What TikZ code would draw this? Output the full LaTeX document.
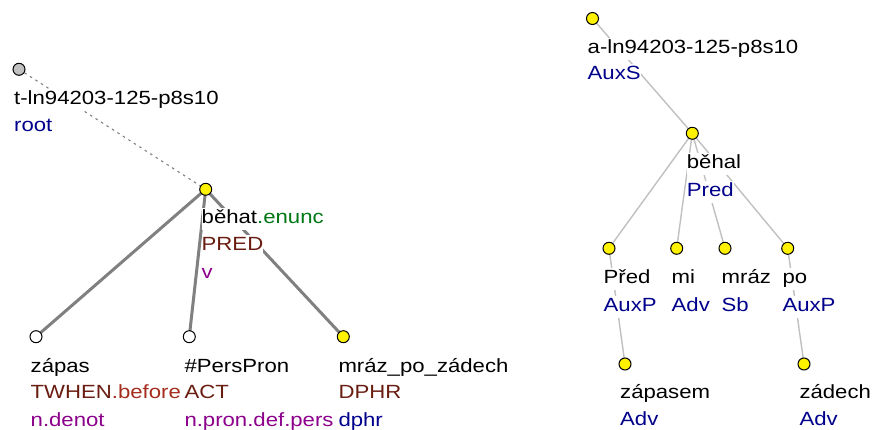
\documentclass[tikz,border=0pt]{standalone}
\usepackage{fontspec}
\setmainfont{Liberation Sans}[FakeStretch=1.16]
\definecolor{afun}{RGB}{0,0,140}
\definecolor{functor}{RGB}{105,28,16}
\definecolor{subfunc}{RGB}{165,45,30}
\definecolor{sempos}{RGB}{140,0,140}
\definecolor{tfa}{RGB}{0,120,20}
\definecolor{tedge}{RGB}{128,128,128}
\definecolor{aedge}{RGB}{192,192,192}
\definecolor{rootfill}{RGB}{192,192,192}
\tikzset{
  tnode/.style={circle,draw=black,line width=1pt,minimum size=12pt,inner sep=0pt},
  yel/.style={tnode,fill=yellow},
  wht/.style={tnode,fill=white},
  gry/.style={tnode,fill=rootfill},
  lbl/.style={anchor=base west,fill=white,inner xsep=0pt,inner ysep=1.5pt,
              text height=14pt,text depth=5pt,font=\fontsize{19.1}{22}\selectfont},
  tedgeline/.style={draw=tedge,line width=3pt},
  rootedge/.style={draw=tedge,line width=1.1pt,dash pattern=on 2.5pt off 4pt},
  aedgeline/.style={draw=aedge,line width=1.4pt},
}
\begin{document}
\begin{tikzpicture}[x=1pt,y=-1pt]
\useasboundingbox (0,0) rectangle (873,430);

% ---------- tectogrammatical tree: nodes ----------
\coordinate (tr) at (19,69.3);
\coordinate (tbehat) at (205.7,189.3);
\coordinate (tzapas) at (36,336.7);
\coordinate (tpers) at (189.3,336.7);
\coordinate (tmraz) at (343.3,336.7);

% ---------- analytical tree: nodes ----------
\coordinate (ar) at (592.5,18.5);
\coordinate (abehal) at (692.3,133.3);
\coordinate (apred) at (609,248.3);
\coordinate (ami) at (676.7,248.3);
\coordinate (amraz) at (725,248.3);
\coordinate (apo) at (787.7,248.3);
\coordinate (azapasem) at (625,364);
\coordinate (azadech) at (804,364);

% ---------- edges ----------
\draw[rootedge] (tr) -- (tbehat);
\draw[tedgeline] (tbehat) -- (tzapas);
\draw[tedgeline] (tbehat) -- (tpers);
\draw[tedgeline] (tbehat) -- (tmraz);

\draw[aedgeline] (ar) -- (abehal);
\draw[aedgeline] (abehal) -- (apred);
\draw[aedgeline] (abehal) -- (ami);
\draw[aedgeline] (abehal) -- (amraz);
\draw[aedgeline] (abehal) -- (apo);
\draw[aedgeline] (apred) -- (azapasem);
\draw[aedgeline] (apo) -- (azadech);

% ---------- labels (white boxes hide the edges beneath) ----------
\node[lbl] (lr1) at (14,105) {t-ln94203-125-p8s10};
\node[lbl,text=afun] (lr2) at (14,131.5) {root};

\node[lbl] (lb1) at (201.5,224) {běhat\textcolor{tfa}{.enunc}};
\node[lbl,text=functor] (lb2) at (201.5,251) {PRED};
\node[lbl,text=sempos] (lb3) at (201.5,278.5) {v};

\node[lbl] (lz1) at (30.5,373) {zápas};
\node[lbl,text=functor] (lz2) at (30.5,399) {TWHEN\textcolor{subfunc}{.before}};
\node[lbl,text=sempos] (lz3) at (30.5,426) {n.denot};

\node[lbl] (lp1) at (184.3,373) {\#PersPron};
\node[lbl,text=functor] (lp2) at (184.3,399) {ACT};
\node[lbl,text=sempos] (lp3) at (184.3,426) {n.pron.def.pers};

\node[lbl] (lm1) at (338.3,373) {mráz\_po\_zádech};
\node[lbl,text=functor] (lm2) at (338.3,399) {DPHR};
\node[lbl,text=afun] (lm3) at (338.3,426) {dphr};

\node[lbl] (la1) at (587.5,53.3) {a-ln94203-125-p8s10};
\node[lbl,text=afun] (la2) at (587.5,80) {AuxS};

\node[lbl] (lh1) at (686.7,168.3) {běhal};
\node[lbl,text=afun] (lh2) at (686.7,196.5) {Pred};

\node[lbl] (lpr1) at (603.5,284) {Před};
\node[lbl,text=afun] (lpr2) at (603.5,311.5) {AuxP};
\node[lbl] (lmi1) at (671.5,284) {mi};
\node[lbl,text=afun] (lmi2) at (671.5,311.5) {Adv};
\node[lbl] (lmr1) at (721.5,284) {mráz};
\node[lbl,text=afun] (lmr2) at (721.5,311.5) {Sb};
\node[lbl] (lpo1) at (782.3,284) {po};
\node[lbl,text=afun] (lpo2) at (782.3,311.5) {AuxP};

\node[lbl] (lzp1) at (620,399) {zápasem};
\node[lbl,text=afun] (lzp2) at (620,425.5) {Adv};
\node[lbl] (lzd1) at (799.3,399) {zádech};
\node[lbl,text=afun] (lzd2) at (799.3,425.5) {Adv};

% ---------- node circles on top ----------
\node[gry] (ntr) at (tr) {};
\node[yel] (ntbehat) at (tbehat) {};
\node[wht] (ntzapas) at (tzapas) {};
\node[wht] (ntpers) at (tpers) {};
\node[yel] (ntmraz) at (tmraz) {};

\node[yel] (nar) at (ar) {};
\node[yel] (nabehal) at (abehal) {};
\node[yel] (napred) at (apred) {};
\node[yel] (nami) at (ami) {};
\node[yel] (namraz) at (amraz) {};
\node[yel] (napo) at (apo) {};
\node[yel] (nazapasem) at (azapasem) {};
\node[yel] (nazadech) at (azadech) {};
\end{tikzpicture}
\end{document}
